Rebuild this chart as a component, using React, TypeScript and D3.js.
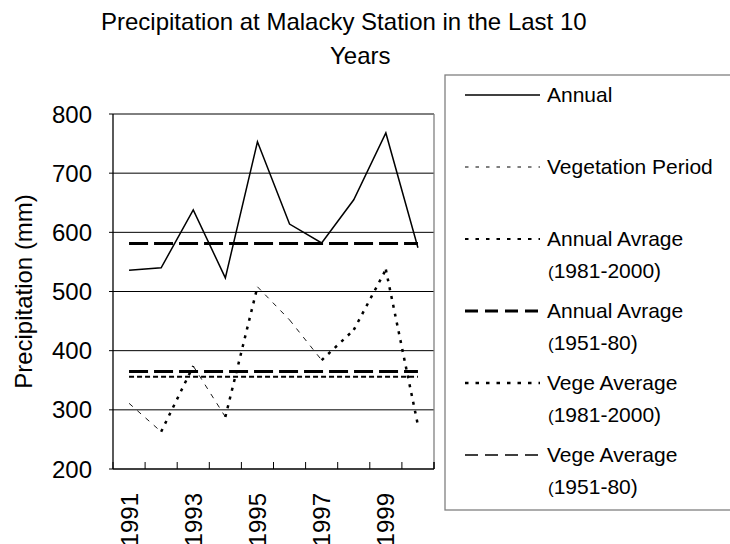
import React from "react";
import * as d3 from "d3";

const years = ["1991", "1992", "1993", "1994", "1995", "1996", "1997", "1998", "1999", "2000"];
const annual = [536, 540, 638, 523, 753, 614, 582, 655, 768, 574];
const vegetation = [311, 263, 374, 288, 508, 452, 384, 435, 537, 274];
const annualAvg5180 = 581;
const vegeAvg8100 = 356;
const vegeAvg5180 = 365;
const yTicks = [200, 300, 400, 500, 600, 700, 800];
const xTickLabels = ["1991", "1993", "1995", "1997", "1999"];
const titleLines = ["Precipitation at Malacky Station in the Last 10", "Years"];
const legendLabels: string[][] = [
  ["Annual"],
  ["Vegetation Period"],
  ["Annual Avrage", "1981-2000)"],
  ["Annual Avrage", "1951-80)"],
  ["Vege Average", "1981-2000)"],
  ["Vege Average", "1951-80)"],
];
const legendStyles = [
  { w: 1.3, dash: "" },
  { w: 1.2, dash: "3.5,7" },
  { w: 1.8, dash: "3.5,7" },
  { w: 3, dash: "13,7" },
  { w: 2.5, dash: "3.5,7" },
  { w: 1.6, dash: "13,7" },
];

const FONT = "'Liberation Sans', Arial, sans-serif";

export default function App() {
  const W = 730, H = 544;
  const L = 113, R = 434, T = 114, B = 469;
  const x = d3.scaleBand<string>().domain(years).range([L, R]).padding(0);
  const bw = x.bandwidth();
  const cx = (d: string) => (x(d) as number) + bw / 2;
  const y = d3.scaleLinear().domain([200, 800]).range([B, T]);

  const line = d3.line<number>().x((_, i) => cx(years[i])).y((v) => y(v));
  const avgLine = (v: number) =>
    d3.line<string>().x((d) => cx(d)).y(() => y(v))(years) as string;

  const vegSegs = vegetation.slice(1).map((v, i) => {
    const a = vegetation[i];
    const drop = y(v) - y(a);
    const thin = drop > 0 && drop < 100;
    const p = d3.line<[number, number]>()([
      [cx(years[i]), y(a)],
      [cx(years[i + 1]), y(v)],
    ]) as string;
    return { p, thin };
  });

  const legX = 445, legY = 75, legB = 510;
  const entryY = (i: number) => 95 + i * 72;

  return (
    <svg width={W} height={H} style={{ position: "absolute", left: 0, top: 0, background: "#fff" }} fontFamily={FONT}>
      <rect x={0} y={0} width={W} height={H} fill="#fff" />
      {/* title */}
      <text x={101} y={30} fontSize={24} fill="#000">
        {titleLines[0]}
      </text>
      <text x={330} y={64} fontSize={24} fill="#000">
        {titleLines[1]}
      </text>

      {/* gridlines */}
      {yTicks.map((t) => (
        <g key={t}>
          <line x1={L - 4} x2={t === 200 ? L : R} y1={y(t)} y2={y(t)} stroke="#000" strokeWidth={1} />
          <text x={92} y={y(t)} fontSize={24} textAnchor="end" dominantBaseline="central" fill="#000">
            {t}
          </text>
        </g>
      ))}
      {/* plot border */}
      <line x1={R} x2={R} y1={T} y2={B} stroke="#808080" strokeWidth={1.3} />
      <line x1={L} x2={L} y1={T} y2={B} stroke="#000" strokeWidth={1.3} />
      <line x1={L} x2={R} y1={B} y2={B} stroke="#000" strokeWidth={1.5} />
      {years.map((d) => (
        <line key={d} x1={x(d) as number} x2={x(d) as number} y1={B} y2={B - 7} stroke="#000" strokeWidth={1} />
      ))}
      <line x1={R} x2={R} y1={B} y2={B - 7} stroke="#000" strokeWidth={1.5} />

      {/* x labels */}
      {xTickLabels.map((d) => (
        <text
          key={d}
          transform={`translate(${cx(d)},${493}) rotate(-90)`}
          fontSize={24}
          textAnchor="end"
          dominantBaseline="central"
          fill="#000"
        >
          {d}
        </text>
      ))}

      {/* y label */}
      <text
        transform={`translate(${23},${(T + B) / 2}) rotate(-90)`}
        fontSize={24}
        textAnchor="middle"
        dominantBaseline="central"
        fill="#000"
      >
        Precipitation (mm)
      </text>

      {/* series */}
      <path d={avgLine(vegeAvg8100)} fill="none" stroke="#000" strokeWidth={2} strokeDasharray="5,3" />
      <path d={avgLine(vegeAvg5180)} fill="none" stroke="#000" strokeWidth={3} strokeDasharray="19,6" />
      <path d={avgLine(annualAvg5180)} fill="none" stroke="#000" strokeWidth={3} strokeDasharray="19,6" />
      <path d={line(annual) as string} fill="none" stroke="#000" strokeWidth={1.5} />
      {vegSegs.map((s, i) => (
        <path
          key={i}
          d={s.p}
          fill="none"
          stroke="#000"
          strokeWidth={s.thin ? 0.9 : 2.5}
          strokeDasharray={s.thin ? "5,6" : "3,6"}
        />
      ))}

      {/* legend */}
      <rect x={legX} y={legY} width={W} height={legB - legY} fill="none" stroke="#808080" strokeWidth={1.3} />
      {legendLabels.map((lab, i) => {
        const ly = entryY(i);
        const st = legendStyles[i];
        return (
          <g key={i}>
            <line x1={465} x2={540} y1={ly} y2={ly} stroke="#000" strokeWidth={st.w} strokeDasharray={st.dash || undefined} />
            <text x={547} y={ly + 7} fontSize={21} fill="#000">
              {lab[0]}
            </text>
            {lab[1] && (
              <text x={548} y={ly + 39} fontSize={21} fill="#000">
                <tspan fontSize={17}>(</tspan>
                {lab[1]}
              </text>
            )}
          </g>
        );
      })}
    </svg>
  );
}
